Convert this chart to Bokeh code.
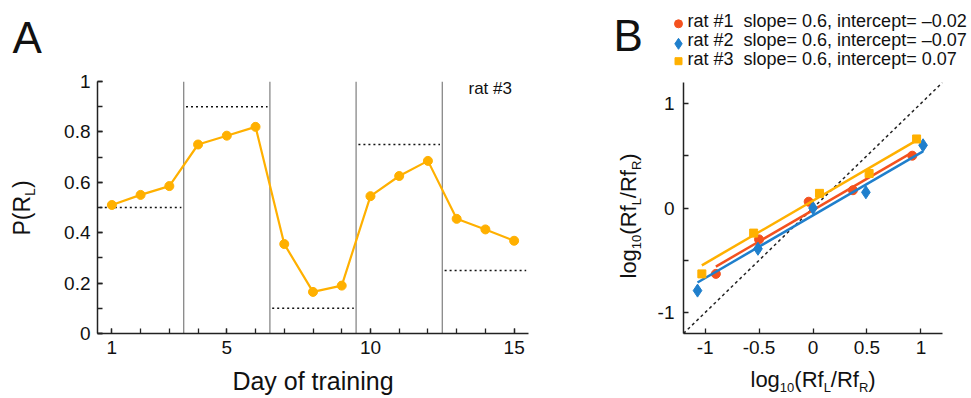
import math
from bokeh.plotting import figure
from bokeh.layouts import row, column
from bokeh.models import FixedTicker, Label, Range1d
from bokeh.embed import file_html
from bokeh.resources import INLINE

FONT = "Liberation Sans"

# ---------------- data: panel A ----------------
days = list(range(1, 16))
p_left = [0.51, 0.55, 0.585, 0.75, 0.785, 0.82, 0.355, 0.165, 0.19,
          0.545, 0.625, 0.685, 0.455, 0.413, 0.368]
block_bounds = [0.5, 3.5, 6.5, 9.5, 12.5, 15.5]
block_target = [0.5, 0.9, 0.1, 0.75, 0.25]
a_xticks = [1, 5, 10, 15]
a_yticks = [0, 0.2, 0.4, 0.6, 0.8, 1]
a_ylabels = ["0", "0.2", "0.4", "0.6", "0.8", "1"]

# ---------------- data: panel B ----------------
rat1_x = [-0.9, -0.5, -0.04, 0.37, 0.92]
rat1_y = [-0.63, -0.30, 0.06, 0.17, 0.50]
rat2_x = [-1.07, -0.51, 0.0, 0.49, 1.02]
rat2_y = [-0.79, -0.39, 0.0, 0.15, 0.60]
rat3_x = [-1.03, -0.55, 0.06, 0.52, 0.96]
rat3_y = [-0.63, -0.24, 0.14, 0.33, 0.66]
slopes = [0.6, 0.6, 0.6]
intercepts = [-0.02, -0.07, 0.07]
rat_names = ["rat #1", "rat #2", "rat #3"]
intercept_text = ["\u20130.02", "\u20130.07", "0.07"]
b_limits = [-1.2, 1.2]
b_ticks = [-1, -0.5, 0, 0.5, 1]
b_xlabels = ["-1", "-0.5", "0", "0.5", "1"]
b_ylabels = ["-1", "", "0", "", "1"]

C_RED = "#F4511E"
C_BLUE = "#1F7FCC"
C_AMBER = "#FFB000"

# approx Liberation Sans advance widths (em)
W = {'l': .222, 'o': .556, 'g': .556, '1': .556, '0': .556, '(': .333, ')': .333,
     'R': .722, 'f': .278, 'L': .556, '/': .278, 'P': .667}
MID = 0.35  # cap-middle above baseline, in em


def tw(s, size):
    return sum(W.get(c, .556) for c in s) * size


def label(p, x, y, text, size, angle=0.0, align="left"):
    """x, y: position of the text's vertical middle (screen units, frame-relative)."""
    p.add_layout(Label(x=x, y=y, x_units="screen", y_units="screen", text=text,
                       angle=angle, text_font=FONT, text_font_size=f"{size}px",
                       text_color="#111", text_baseline="middle", text_align=align))


def label_bl(p, x, y, text, size):
    """x, y: start of the baseline."""
    label(p, x, y + MID * size, text, size)


def compose(p, x0, y0, pieces, vertical=False):
    """pieces: (text, size, is_sub); (x0, y0) is the start of the main baseline."""
    pos = 0.0
    for text, size, sub in pieces:
        shift = 5 if sub else 0
        if vertical:
            label(p, x0 + shift - MID * size, y0 + pos, text, size, angle=math.pi / 2)
        else:
            label(p, x0 + pos, y0 - shift + MID * size, text, size)
        pos += tw(text, size)


def text_fig(w, h):
    f = figure(width=w, height=h, output_backend="svg", toolbar_location=None,
               x_axis_location=None, y_axis_location=None, min_border=0,
               x_range=Range1d(0, w), y_range=Range1d(0, h), frame_align=False)
    f.outline_line_color = None
    f.grid.visible = False
    return f


def style(p):
    p.outline_line_color = None
    p.grid.visible = False
    for ax in p.axis:
        ax.axis_line_width = 1.5
        ax.axis_line_color = "#222"
        ax.major_tick_line_color = "#222"
        ax.minor_tick_line_color = "#222"
        ax.major_tick_line_width = 1.3
        ax.minor_tick_line_width = 1.3
        ax.major_tick_in = 5
        ax.major_tick_out = 0
        ax.minor_tick_in = 5
        ax.minor_tick_out = 0
        ax.major_label_text_font = FONT
        ax.major_label_text_font_size = "19px"
        ax.major_label_text_color = "#111"


# ================= Panel A =================
head_a = text_fig(568, 69)
label_bl(head_a, 12, 17, "A", 44)

ylab_a = text_fig(40, 329)
compose(ylab_a, 29.5, 163, [("P(R", 23, False), ("L", 14, True), (")", 23, False)], vertical=True)

pa = figure(width=528, height=329, output_backend="svg", toolbar_location=None,
            x_range=Range1d(block_bounds[0], block_bounds[-1]), y_range=Range1d(0, 1),
            min_border_left=57, min_border_right=40, min_border_top=12, min_border_bottom=65,
            frame_align=False)
style(pa)
pa.xaxis.ticker = FixedTicker(ticks=a_xticks, minor_ticks=days)
pa.yaxis.ticker = FixedTicker(ticks=a_yticks, minor_ticks=[i / 10 for i in range(11)])
pa.yaxis.major_label_overrides = {t: l for t, l in zip(a_yticks, a_ylabels)}
pa.yaxis.major_label_standoff = 7
pa.xaxis.major_label_standoff = 7
pa.xaxis.axis_label = "Day of training"
pa.xaxis.axis_label_text_font = FONT
pa.xaxis.axis_label_text_font_size = "25px"
pa.xaxis.axis_label_text_font_style = "normal"
pa.xaxis.axis_label_text_color = "#111"
pa.xaxis.axis_label_standoff = 10

pa.segment(x0=block_bounds[1:-1], y0=0, x1=block_bounds[1:-1], y1=1,
           line_color="#888888", line_width=1.3)
pa.segment(x0=[b + 0.08 for b in block_bounds[:-1]], y0=block_target,
           x1=[b - 0.08 for b in block_bounds[1:]], y1=block_target,
           line_color="#111", line_width=1.6, line_dash="2 3")
pa.line(days, p_left, line_color=C_AMBER, line_width=2.2)
pa.scatter(days, p_left, size=9, color=C_AMBER)
label_bl(pa, 371, 239.5, "rat #3", 17)

# ================= Panel B =================
head_b = text_fig(403, 70)
label_bl(head_b, 45, 20, "B", 44)
legend_marks = [("circle", C_RED, 8), ("diamond", C_BLUE, 11), ("square", C_AMBER, 7)]
mark_y = [46.7, 26.7, 9.3]
text_base = [43.3, 24.3, 5.0]
for i, (mk, col, sz) in enumerate(legend_marks):
    head_b.scatter([110], [mark_y[i]], marker=mk, size=sz, color=col)
    txt = f"{rat_names[i]}\u00a0\u00a0slope= {slopes[i]}, intercept= {intercept_text[i]}"
    label_bl(head_b, 119, text_base[i], txt, 18)

lab = [("log", 22, False), ("10", 13, True), ("(Rf", 22, False), ("L", 13, True),
       ("/Rf", 22, False), ("R", 13, True), (")", 22, False)]

ylab_b = text_fig(82, 328)
compose(ylab_b, 68, 120, lab, vertical=True)

pb = figure(width=321, height=293, output_backend="svg", toolbar_location=None,
            x_range=Range1d(*b_limits), y_range=Range1d(*b_limits),
            min_border_left=33, min_border_right=29, min_border_top=12, min_border_bottom=30,
            frame_align=False)
style(pb)
pb.xaxis.ticker = FixedTicker(ticks=b_ticks, minor_ticks=[])
pb.yaxis.ticker = FixedTicker(ticks=b_ticks, minor_ticks=[])
pb.xaxis.major_label_overrides = {t: l for t, l in zip(b_ticks, b_xlabels)}
pb.yaxis.major_label_overrides = {t: l for t, l in zip(b_ticks, b_ylabels)}
pb.yaxis.major_label_standoff = 9
pb.xaxis.major_label_standoff = 7

pb.line(b_limits, b_limits, line_color="#222", line_width=1.5, line_dash="3 3")

series = [(rat1_x, rat1_y, C_RED, "circle", 9),
          (rat2_x, rat2_y, C_BLUE, "diamond", 13),
          (rat3_x, rat3_y, C_AMBER, "square", 8)]
for i, (xs, ys, col, mk, sz) in enumerate(series):
    x0, x1 = min(xs), max(xs)
    pb.line([x0, x1], [slopes[i] * x0 + intercepts[i], slopes[i] * x1 + intercepts[i]],
            line_color=col, line_width=2.5)
    pb.scatter(xs, ys, marker=mk, size=sz, color=col)

foot_b = text_fig(321, 35)
compose(foot_b, 100, 11.3, lab)

layout = row(column(head_a, row(ylab_a, pa)),
             column(head_b, row(ylab_b, column(pb, foot_b))))
open("out.html", "w").write(file_html(layout, INLINE))
